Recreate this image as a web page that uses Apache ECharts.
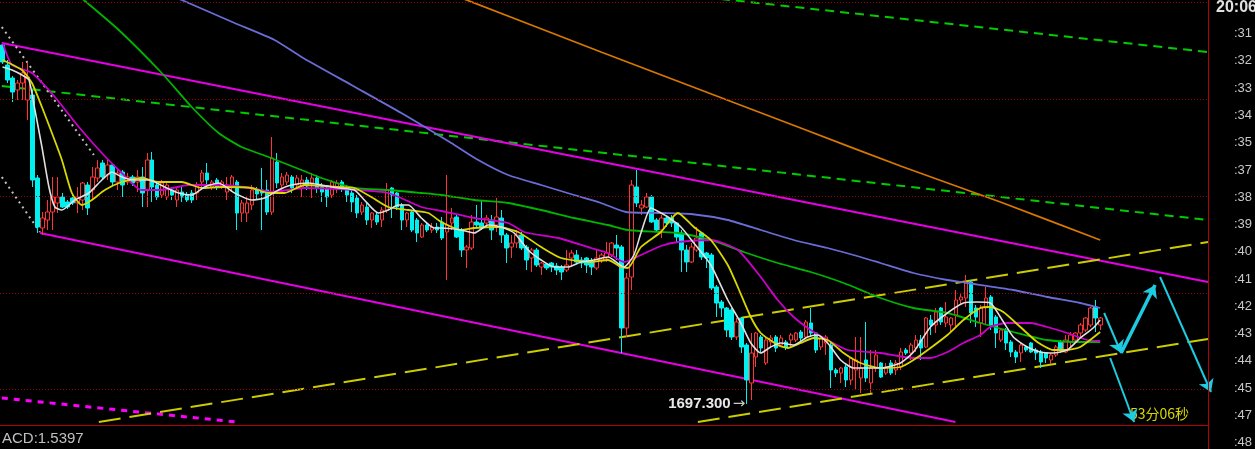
<!DOCTYPE html>
<html><head><meta charset="utf-8">
<script src="https://cdn.jsdelivr.net/npm/echarts@6/dist/echarts.min.js"></script>
<style>html,body{margin:0;padding:0;background:#000;overflow:hidden}#c{width:1255px;height:449px}</style>
</head><body><div id="c"></div>
<script>
// ---- candle data (index 0..220), prices ----
const openP = [
1733.2,1731.2,1729.9,1728.7,1729.4,1727.7,1728.2,1719.9,1714.9,1715.7,
1716.5,1717.4,1718.0,1717.5,1717.9,1717.4,1717.7,1719.2,1718.7,1719.9,
1721.4,1720.2,1721.2,1719.5,1720.5,1719.5,1720.0,1719.5,1720.0,1718.7,
1721.7,1719.2,1718.2,1718.0,1718.7,1717.7,1718.5,1718.2,1718.4,1718.4,
1719.5,1720.4,1719.0,1719.7,1719.0,1718.5,1719.0,1719.5,1716.4,1716.4,
1717.2,1718.7,1718.7,1718.7,1716.5,1721.5,1719.2,1719.5,1720.0,1719.2,
1719.0,1719.7,1719.4,1719.9,1719.0,1718.9,1718.2,1718.9,1719.5,1718.9,
1718.4,1717.9,1716.5,1717.0,1715.7,1716.2,1715.7,1716.7,1718.9,1718.4,
1717.2,1715.7,1716.5,1715.7,1714.0,1715.2,1714.7,1715.0,1715.5,1714.5,
1715.4,1716.0,1714.7,1712.7,1712.9,1715.5,1715.4,1715.4,1715.7,1715.2,
1715.9,1714.2,1713.0,1713.4,1714.2,1713.0,1711.9,1712.7,1711.0,1711.3,
1711.4,1711.1,1711.0,1710.7,1711.9,1712.2,1711.7,1711.9,1711.5,1710.9,
1711.7,1711.9,1712.2,1713.2,1713.0,1704.9,1710.0,1719.0,1716.9,1717.0,
1718.0,1715.7,1714.7,1715.9,1715.9,1715.4,1714.4,1712.7,1711.5,1712.7,
1714.4,1712.4,1712.2,1709.0,1707.5,1706.9,1706.7,1704.0,1705.9,1703.2,
1699.4,1702.0,1704.0,1701.4,1703.5,1704.0,1703.2,1703.5,1703.7,1703.7,
1704.5,1704.0,1705.4,1704.4,1703.0,1703.4,1703.2,1700.7,1700.4,1701.0,
1699.7,1700.7,1699.9,1701.7,1699.4,1700.9,1701.4,1700.4,1701.4,1700.7,
1701.0,1702.7,1702.4,1702.9,1703.7,1703.0,1705.7,1705.2,1706.9,1705.4,
1705.2,1706.2,1707.7,1707.9,1709.5,1706.9,1705.4,1707.0,1708.0,1706.0,
1703.7,1704.7,1703.5,1702.5,1702.4,1703.0,1703.4,1702.7,1702.5,1702.4,
1701.7,1702.2,1703.5,1702.5,1703.5,1703.7,1704.4,1704.7,1705.2,1707.0,1705.2];
const closeP = [
1731.5,1729.7,1728.5,1729.4,1730.4,1730.0,1719.7,1715.0,1715.9,1716.5,
1718.0,1718.0,1717.0,1717.0,1717.4,1718.0,1719.4,1716.9,1720.0,1720.9,
1720.0,1721.2,1719.5,1720.4,1719.2,1720.0,1719.4,1720.0,1718.4,1721.7,
1719.0,1718.0,1719.4,1719.2,1718.2,1718.7,1718.0,1717.7,1717.7,1719.2,
1720.4,1719.7,1719.5,1719.0,1719.5,1719.2,1720.0,1716.4,1717.4,1717.4,
1718.7,1718.3,1718.4,1716.5,1721.9,1719.4,1720.0,1720.2,1718.9,1719.9,
1719.7,1719.1,1719.9,1718.9,1718.5,1718.0,1719.5,1719.4,1718.9,1718.2,
1717.5,1716.4,1717.2,1715.7,1716.4,1715.5,1716.7,1718.7,1718.2,1717.0,
1715.7,1716.4,1714.7,1714.4,1715.2,1714.7,1715.0,1714.7,1713.9,1715.2,
1715.9,1714.0,1712.7,1713.0,1715.5,1715.2,1714.9,1715.9,1714.7,1716.0,
1714.2,1712.9,1713.4,1714.2,1712.9,1711.7,1712.7,1711.2,1711.4,1710.9,
1711.0,1710.7,1710.5,1711.2,1712.4,1711.5,1711.4,1711.2,1711.0,1711.9,
1712.2,1712.4,1713.4,1712.9,1704.9,1709.9,1719.2,1717.4,1717.2,1718.0,
1715.5,1714.7,1715.9,1715.4,1715.4,1714.0,1712.7,1711.5,1713.0,1713.9,
1712.0,1711.9,1708.9,1707.4,1706.9,1704.7,1704.0,1705.5,1703.0,1699.7,
1702.4,1704.4,1702.9,1703.7,1703.9,1702.9,1703.9,1703.0,1704.2,1704.4,
1703.9,1705.5,1704.4,1702.7,1703.9,1704.0,1700.7,1700.4,1700.9,1699.7,
1701.9,1701.7,1700.9,1699.9,1700.9,1702.2,1700.0,1701.0,1700.4,1701.4,
1702.5,1702.4,1703.2,1703.7,1702.9,1705.9,1705.2,1706.5,1705.5,1706.0,
1705.9,1707.7,1708.0,1709.4,1706.4,1706.0,1706.9,1707.9,1705.2,1704.4,
1704.7,1703.4,1702.5,1702.0,1703.2,1702.7,1702.5,1702.4,1701.5,1701.9,
1702.2,1703.0,1702.7,1703.7,1704.2,1704.4,1705.2,1705.9,1706.9,1705.9,1705.9];
const highP = [
1733.5,1731.7,1730.1,1729.7,1731.5,1731.5,1728.7,1720.2,1716.5,1717.7,
1720.0,1720.0,1718.4,1717.7,1718.2,1719.0,1719.5,1719.5,1721.0,1721.7,
1721.7,1721.7,1721.4,1720.7,1720.7,1720.4,1720.2,1720.7,1721.0,1722.4,
1722.5,1719.5,1719.7,1719.5,1719.0,1719.0,1719.0,1718.5,1718.7,1719.5,
1720.7,1721.4,1719.7,1719.9,1719.7,1720.0,1720.2,1719.7,1717.7,1718.0,
1719.2,1719.0,1720.9,1719.7,1724.0,1722.4,1720.4,1720.5,1720.2,1720.2,
1720.2,1720.0,1720.4,1720.2,1719.4,1719.0,1719.7,1719.7,1719.7,1719.2,
1718.7,1718.2,1717.5,1717.4,1716.5,1716.5,1717.0,1719.4,1719.0,1718.5,
1717.4,1716.5,1716.7,1715.9,1715.4,1715.4,1715.4,1715.4,1716.0,1720.2,
1716.9,1716.2,1714.9,1713.2,1716.2,1717.2,1717.7,1716.2,1716.2,1717.9,
1716.7,1714.4,1714.2,1714.7,1714.5,1713.2,1712.9,1712.9,1711.5,1711.4,
1711.5,1711.4,1711.2,1712.7,1712.7,1712.7,1712.0,1712.0,1711.9,1712.7,
1712.4,1713.5,1713.5,1714.2,1713.2,1710.4,1719.7,1720.7,1717.7,1718.4,
1718.2,1715.9,1716.2,1716.0,1716.2,1715.5,1714.7,1713.2,1713.4,1715.0,
1714.5,1712.5,1712.4,1709.2,1707.7,1707.0,1706.9,1705.9,1706.0,1703.4,
1704.4,1704.5,1704.2,1704.0,1704.2,1704.2,1704.2,1703.7,1704.4,1704.5,
1704.7,1705.7,1706.9,1704.5,1704.0,1704.2,1703.4,1700.9,1701.0,1701.2,
1702.0,1704.0,1704.0,1705.5,1702.7,1702.7,1701.5,1701.4,1701.7,1701.7,
1702.9,1702.9,1703.4,1704.2,1704.2,1706.0,1706.2,1706.9,1707.0,1707.5,
1706.0,1708.7,1708.4,1710.2,1709.7,1707.2,1707.2,1709.0,1708.2,1706.2,
1704.9,1704.9,1703.7,1702.7,1703.4,1703.2,1703.5,1702.9,1702.7,1702.5,
1702.4,1703.2,1703.7,1704.2,1704.5,1704.5,1705.4,1706.0,1707.0,1707.7,1706.0];
const lowP = [
1731.3,1729.4,1727.5,1727.7,1727.7,1725.7,1719.0,1714.4,1714.2,1714.7,
1714.7,1716.4,1716.9,1716.8,1717.2,1716.4,1716.7,1716.2,1717.7,1719.5,
1719.7,1719.7,1719.2,1718.7,1718.0,1719.2,1719.1,1718.5,1717.0,1717.0,
1717.5,1717.7,1717.9,1717.7,1717.7,1717.0,1717.5,1717.5,1717.4,1717.7,
1718.7,1719.2,1718.7,1718.7,1718.8,1717.7,1718.5,1714.7,1715.5,1715.5,
1716.7,1717.7,1714.7,1716.2,1716.2,1718.9,1718.7,1719.2,1718.4,1718.9,
1718.0,1718.7,1717.9,1718.4,1717.5,1717.0,1717.9,1718.4,1718.5,1717.5,
1716.5,1715.9,1716.2,1715.2,1714.9,1715.2,1715.0,1716.4,1715.9,1716.7,
1714.7,1715.0,1714.5,1713.5,1713.9,1714.5,1714.4,1714.4,1713.7,1709.7,
1714.7,1713.9,1712.0,1710.9,1712.7,1715.0,1714.7,1715.0,1713.7,1714.5,
1713.4,1711.4,1711.9,1712.9,1712.7,1710.7,1710.5,1711.0,1710.2,1710.7,
1710.5,1710.2,1709.7,1710.5,1711.0,1711.4,1710.9,1710.4,1710.2,1710.7,
1711.4,1711.5,1712.0,1711.7,1702.4,1704.0,1708.7,1717.0,1716.2,1716.9,
1715.4,1714.5,1713.9,1715.0,1715.0,1713.5,1710.5,1710.5,1711.4,1712.5,
1711.7,1710.9,1708.7,1706.0,1706.0,1704.0,1703.7,1703.7,1702.4,1697.3,
1697.7,1701.0,1702.4,1701.2,1703.0,1702.5,1703.0,1702.7,1703.0,1703.5,
1703.4,1703.9,1704.0,1702.4,1702.7,1702.2,1698.9,1700.0,1699.4,1699.0,
1699.2,1698.7,1698.4,1699.5,1698.4,1700.5,1699.9,1700.2,1700.2,1700.2,
1700.7,1702.2,1701.7,1702.5,1701.7,1702.9,1704.2,1704.4,1705.2,1705.0,
1704.4,1705.0,1707.2,1707.0,1705.4,1705.0,1704.0,1705.2,1704.7,1702.9,
1703.5,1702.7,1702.0,1701.4,1701.5,1702.5,1702.4,1701.7,1700.9,1701.4,
1701.3,1702.0,1702.4,1702.4,1702.9,1703.4,1704.0,1704.5,1705.0,1704.5,1704.7];

// ---- moving-average lines: [bar index, price] ----
const maWhite = [[0,1731.0],[1.9,1730.7],[3.9,1730.2],[5.3,1729.7],[6.5,1726.7],[7.9,1723.0],[9.3,1719.0],[10.5,1717.0],[11.9,1716.7],[14.5,1717.7],[17.3,1718.4],[19.9,1719.7],[21.9,1720.5],[23.9,1720.0],[26.5,1719.7],[29.3,1719.7],[32.5,1719.0],[35.3,1718.4],[37.9,1718.2],[40.5,1719.0],[43.3,1719.4],[46.5,1718.4],[49.9,1717.7],[52.5,1717.9],[55.3,1718.7],[57.9,1719.2],[61.3,1719.4],[63.9,1719.2],[67.3,1718.9],[70.5,1718.7],[72.5,1717.7],[75.3,1716.4],[77.3,1716.7],[79.3,1717.2],[81.3,1717.2],[83.9,1715.9],[86.5,1714.9],[87.9,1714.9],[91.9,1714.7],[94.5,1714.4],[97.3,1715.2],[99.9,1715.0],[102.5,1714.4],[105.3,1712.7],[107.9,1711.7],[110.5,1711.0],[113.3,1711.0],[115.9,1711.5],[118.5,1711.7],[121.3,1712.0],[124.5,1711.0],[126.5,1712.2],[127.9,1714.4],[129.9,1716.9],[131.9,1716.4],[133.3,1716.0],[135.9,1715.0],[138.5,1713.4],[141.9,1711.2],[145.3,1707.7],[147.9,1705.4],[149.9,1703.4],[151.9,1702.4],[153.9,1703.0],[155.9,1703.4],[158.5,1703.2],[161.3,1704.0],[163.3,1704.2],[165.3,1703.4],[167.9,1701.7],[170.5,1700.9],[173.3,1700.9],[175.9,1700.9],[179.9,1701.4],[182.5,1702.5],[185.9,1705.0],[189.3,1706.4],[192.5,1707.4],[195.3,1707.5],[197.9,1707.4],[199.9,1706.0],[202.5,1704.0],[205.3,1703.0],[207.9,1702.5],[210.5,1702.4],[213.3,1702.7],[215.9,1703.9],[218.5,1704.9],[219.9,1705.7]];
const maYellow = [[0,1731.7],[3.9,1730.7],[5.9,1729.4],[7.9,1727.0],[9.9,1724.4],[11.9,1721.7],[13.9,1718.4],[15.9,1717.2],[17.9,1717.7],[20.5,1718.7],[23.9,1719.5],[27.9,1719.9],[31.3,1719.5],[35.9,1719.5],[39.9,1718.9],[43.9,1719.0],[49.9,1718.9],[53.3,1718.4],[56.5,1718.4],[60.5,1719.2],[67.3,1719.0],[70.5,1718.9],[73.9,1718.0],[77.3,1717.0],[81.3,1716.7],[85.3,1716.4],[87.9,1715.5],[91.9,1714.7],[94.5,1714.9],[99.3,1715.0],[103.3,1714.5],[107.9,1713.0],[111.9,1711.9],[117.9,1711.5],[121.3,1711.7],[123.9,1711.0],[125.3,1710.9],[127.9,1713.0],[131.9,1714.5],[135.3,1716.4],[138.5,1715.0],[141.9,1713.7],[145.3,1711.2],[147.3,1709.0],[149.9,1706.0],[151.9,1704.4],[155.3,1703.2],[157.3,1702.9],[159.9,1703.4],[162.5,1703.9],[165.3,1703.7],[168.5,1702.4],[171.9,1701.4],[175.9,1700.9],[179.9,1701.0],[182.5,1701.7],[185.9,1702.9],[189.3,1704.2],[192.5,1705.7],[195.9,1706.9],[197.9,1707.0],[200.5,1706.5],[203.9,1705.0],[207.3,1703.5],[210.5,1702.7],[213.3,1702.7],[215.9,1703.0],[219.9,1704.5]];
const maMagenta = [[0,1733.5],[1.9,1731.2],[5.9,1730.4],[10.5,1728.0],[15.3,1725.0],[19.9,1722.4],[23.9,1720.4],[27.9,1718.7],[31.9,1718.7],[37.3,1719.2],[43.3,1719.2],[49.9,1718.9],[53.9,1718.5],[60.5,1718.9],[70.5,1718.7],[77.3,1718.4],[83.9,1717.0],[87.9,1716.6],[94.5,1715.9],[101.3,1715.4],[104.5,1714.5],[111.3,1713.9],[117.9,1712.9],[121.3,1712.4],[124.5,1711.5],[127.9,1712.2],[131.9,1713.1],[135.3,1713.5],[141.9,1713.7],[147.3,1712.7],[151.9,1710.0],[155.3,1707.7],[158.5,1706.0],[161.9,1704.7],[165.3,1703.7],[169.3,1702.7],[175.9,1702.4],[182.5,1701.9],[185.9,1701.9],[189.3,1702.5],[192.5,1703.4],[195.9,1704.2],[197.9,1705.0],[201.3,1705.4],[205.9,1705.4],[209.3,1705.0],[213.3,1704.4],[217.3,1703.7],[219.9,1703.6]];
const maGreen = [[13.9,1738.7],[16.3,1737.7],[23.3,1734.7],[31.9,1730.4],[37.9,1727.0],[43.3,1724.4],[47.9,1723.0],[53.3,1722.0],[59.9,1720.7],[63.9,1719.9],[70.5,1718.9],[77.3,1718.7],[83.9,1718.4],[87.9,1718.2],[94.5,1717.7],[101.3,1717.4],[107.9,1716.7],[114.5,1715.9],[121.3,1715.2],[125.3,1714.7],[131.9,1714.5],[135.3,1714.4],[141.9,1713.7],[148.5,1712.5],[155.3,1711.4],[161.9,1710.5],[168.5,1709.4],[175.9,1707.9],[182.5,1706.9],[189.3,1706.4],[195.9,1705.4],[202.5,1704.5],[209.3,1703.7],[215.9,1703.5],[219.9,1703.5]];
const maBlue = [[32.9,1738.3],[35.9,1737.7],[46.5,1735.4],[54.5,1733.7],[59.9,1732.0],[69.9,1729.2],[79.9,1726.4],[89.9,1723.4],[95.3,1721.7],[101.3,1720.2],[107.9,1719.2],[114.5,1718.2],[119.9,1717.4],[124.9,1716.5],[131.9,1716.4],[137.9,1716.3],[145.3,1715.7],[151.9,1714.7],[158.5,1713.7],[165.3,1712.9],[171.9,1712.0],[175.9,1711.4],[182.5,1710.4],[189.3,1709.7],[193.3,1709.4],[202.5,1708.7],[209.3,1708.0],[215.9,1707.4],[219.9,1706.9]];
const maOrange = [[90.9,1738.1],[119.9,1732.5],[139.9,1728.7],[159.9,1724.9],[179.9,1721.1],[199.9,1717.5],[219.9,1713.7]];

// ---- drawn trend lines: [bar index, price] endpoints ----
const chanUpper = [[-0.14,1733.4],[241.5,1709.5]];
const chanLower = [[7.5,1714.4],[190.9,1695.5]];
const magentaDash = [[-0.14,1697.9],[46.9,1695.5]];
const yellowUpper = [[19.3,1695.5],[241.5,1713.5]];
const yellowLower = [[139.3,1695.5],[241.5,1703.8]];
const greenDash1 = [[-0.14,1729.1],[241.5,1715.7]];
const greenDash2 = [[143.9,1737.8],[241.5,1732.5]];
const greyDot1 = [[-0.14,1735.0],[18.3,1722.2]];
const greyDot2 = [[-0.14,1720.0],[7.5,1714.5]];
const arrowPaths = [
  [[220.7,1706.4],[224.1,1702.4]],
  [[224.1,1702.4],[230.9,1709.2]],
  [[231.9,1710.0],[242.1,1698.5]],
  [[221.9,1701.9],[226.7,1695.5]]
];

// ---- levels and labels ----
const gridLevels = [1737.5,1727.8,1718.1,1708.4,1698.8];
const rightLabels = [':31',':32',':33',':34',':35',':37',':38',':39',':40',':41',':42',':43',':44',':45',':47',':48'];
const timeLabel = '20:06';
const indicatorLabel = 'ACD:1.5397';
const countdownLabel = '53分06秒';
const N_CAT = 242;

const cats = Array.from({length: N_CAT}, (_, i) => String(i));
const candles = openP.map((o, i) => [o, closeP[i], lowP[i], highP[i]]);
const lowVal = Math.min(...lowP);
const lowIdx = lowP.indexOf(lowVal);

function ln(data, color, width, type, z, smooth) {
  return {type:'line', xAxisIndex:1, yAxisIndex:0, data, symbol:'none', smooth: smooth || false,
    lineStyle:{color, width, type: type || 'solid'}, z: z || 2, silent:true, animation:false};
}

const chart = echarts.init(document.getElementById('c'), null, {renderer:'canvas'});
chart.setOption({
  backgroundColor:'#000',
  animation:false,
  grid:[{left:-1.8, right:47, top:0, bottom:24}, {left:1200, right:47, top:6.4, bottom:0.4}],
  xAxis:[
    {type:'category', gridIndex:0, data:cats, boundaryGap:true, show:false},
    {type:'value', gridIndex:0, min:-0.5, max:N_CAT-0.5, show:false},
    {type:'value', gridIndex:1, min:0, max:1, show:false}
  ],
  yAxis:[
    {type:'value', gridIndex:0, min:1695.2, max:1737.7, show:false},
    {type:'value', gridIndex:1, position:'right', inverse:true, min:-1, max:15, interval:1,
      axisLine:{show:false}, axisTick:{show:false}, splitLine:{show:false},
      axisLabel:{show:true, margin:28, color:'#c8c8c8', fontSize:13, fontFamily:'Liberation Sans', align:'left',
        showMinLabel:true, showMaxLabel:true,
        formatter:(v)=>{const k=Math.round(v); return k>=0 && k<rightLabels.length ? rightLabels[k] : '';}}}
  ],
  series:[
    ln(greenDash1,'#00cc00',2,[9,6],1),
    ln(greenDash2,'#00cc00',2,[9,6],1),
    ln(chanUpper,'#e600e6',2,'solid',1),
    ln(chanLower,'#e600e6',2,'solid',1),
    ln(magentaDash,'#ff00ff',3,[6,6],1),
    ln(yellowUpper,'#cccc00',2,[22,9],1),
    ln(yellowLower,'#cccc00',2,[22,9],1),
    ln(greyDot1,'#c0c0c0',2,[2,4],1),
    ln(greyDot2,'#c0c0c0',2,[2,4],1),
    {
      type:'candlestick', xAxisIndex:0, yAxisIndex:0, data:candles, barWidth:4,
      itemStyle:{color:'#000000', color0:'#00f0f0', borderColor:'#ff3434', borderColor0:'#00f0f0', borderWidth:1},
      z:3, silent:true,
      markLine:{silent:true, symbol:['none','none'], label:{show:false},
        lineStyle:{color:'#960000', type:[1,2], width:1}, data:gridLevels.map(v=>({yAxis:v})), animation:false},
      markPoint:{symbol:'circle', symbolSize:0, silent:true, animation:false,
        data:[{coord:[String(lowIdx), lowVal], value:lowVal}],
        label:{show:true, position:'left', distance:1,
          formatter:(p)=>'{a|'+p.value.toFixed(3)+'}{b|→}',
          rich:{a:{color:'#e8e8e8', fontSize:15, fontWeight:'bold', fontFamily:'Liberation Sans'},
                b:{color:'#c8c8c8', fontSize:15, fontFamily:'DejaVu Sans', padding:[0,0,0,2]}}}}
    },
    ln(maOrange,'#d87800',1.8,'solid',4,0.2),
    ln(maBlue,'#6c6cd8',1.8,'solid',4,0.2),
    ln(maGreen,'#00b400',1.8,'solid',4,0.2),
    ln(maMagenta,'#cc00cc',1.8,'solid',5,0.2),
    ln(maYellow,'#d8d800',1.8,'solid',5,0.2),
    ln(maWhite,'#e0e0e0',1.6,'solid',6,0.2),
    {
      type:'lines', coordinateSystem:'cartesian2d', xAxisIndex:1, yAxisIndex:0, polyline:false, clip:false,
      symbol:['none','arrow'], symbolSize:12, silent:true, animation:false, z:10,
      lineStyle:{color:'#1ecbe0', width:2, opacity:1, curveness:0},
      data: arrowPaths.map((c,i)=>({coords:c, lineStyle:{width: i===1 ? 3.5 : 2}}))
    }
  ],
  graphic:[
    {type:'line', z:50, silent:true, shape:{x1:1208.5,y1:0,x2:1208.5,y2:449}, style:{stroke:'#b40000', lineWidth:1}},
    {type:'line', z:50, silent:true, shape:{x1:0,y1:425.5,x2:1208,y2:425.5}, style:{stroke:'#b40000', lineWidth:1}},
    {type:'text', z:50, silent:true, style:{x:1216, y:7.5, text:timeLabel, fill:'#e0e0e0', font:'bold 16px "Liberation Sans"', textVerticalAlign:'middle'}},
    {type:'text', z:50, silent:true, style:{x:2, y:438.5, text:indicatorLabel, fill:'#c0c0c0', font:'15px "Liberation Sans"', textVerticalAlign:'middle'}},
    {type:'text', z:1, silent:true, style:{x:1130, y:414, text:countdownLabel, fill:'#d8d800', font:'14px "Noto Sans CJK SC"', textVerticalAlign:'middle'}}
  ]
});
</script>
</body></html>
